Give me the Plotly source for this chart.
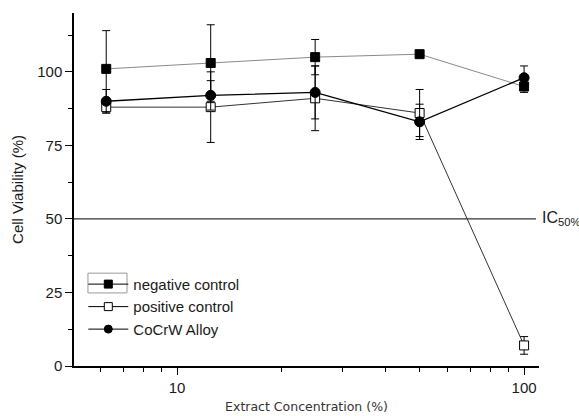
import plotly.graph_objects as go

conc = [6.25, 12.5, 25, 50, 100]
neg = [101, 103, 105, 106, 95]
neg_err = [13, 13, 6, 1, 2]
pos = [88, 88, 91, 86, 7]
pos_err = [2, 12, 11, 8, 3]
alloy = [90, 92, 93, 83, 98]
alloy_err = [4, 5, 9, 6, 4]

FONT = "Liberation Sans, Arial, sans-serif"
TXT = "#1a1a1a"

fig = go.Figure()

def add(name, y, err, color, symbol, size, lw, fill="black"):
    marker = dict(symbol=symbol, size=size, color=fill,
                  line=dict(color="black", width=1))
    fig.add_trace(go.Scatter(
        x=conc, y=y, name=name, mode="lines+markers", showlegend=False,
        line=dict(color=color, width=lw), marker=marker,
        error_y=dict(type="data", array=err, visible=True, color="black",
                     thickness=1, width=4),
    ))
    # legend entry without error bars
    fig.add_trace(go.Scatter(
        x=[None], y=[None], name=name, mode="lines+markers",
        line=dict(color="black", width=1),
        marker=dict(symbol=symbol, size=8, color=fill,
                    line=dict(color="black", width=1)),
    ))

add("negative control", neg, neg_err, "#8a8a8a", "square", 9, 1)
add("positive control", pos, pos_err, "#333333", "square", 9, 1, fill="white")
add("CoCrW Alloy", alloy, alloy_err, "black", "circle", 10, 1.3)

fig.add_shape(type="line", xref="paper", yref="y", x0=0, x1=0.9935, y0=50, y1=50,
              line=dict(color="#333333", width=1.2))
fig.add_annotation(xref="paper", yref="y", x=1.002, y=50, xanchor="left",
                   text="IC<sub>50%</sub>", showarrow=False,
                   font=dict(family=FONT, size=16, color=TXT))
# box around first legend symbol
fig.add_shape(type="rect", xref="paper", yref="paper",
              x0=0.030, x1=0.114, y0=0.207, y1=0.263,
              line=dict(color="#999999", width=1))

fig.update_layout(
    template="none",
    width=579, height=416,
    margin=dict(l=74, r=40, t=13, b=50),
    plot_bgcolor="white", paper_bgcolor="white",
    font=dict(family=FONT, size=14, color=TXT),
    showlegend=True,
    legend=dict(x=0.02, y=0.278, xanchor="left", yanchor="top",
                bgcolor="rgba(0,0,0,0)", font=dict(size=15, color=TXT),
                tracegroupgap=0, itemwidth=40),
)
fig.update_xaxes(
    type="log", range=[0.703, 2.043], automargin=False,
    tickvals=[10, 100], ticktext=["10", "100"],
    ticks="outside", ticklen=7, tickwidth=1.3, tickcolor="black",
    minor=dict(tickvals=[6, 7, 8, 9, 20, 30, 40, 50, 60, 70, 80, 90],
               ticks="outside", ticklen=4, tickwidth=1.3, tickcolor="black"),
    showline=True, linecolor="black", linewidth=1.5, showgrid=False, zeroline=False,
    tickfont=dict(size=15, color=TXT),
    title=dict(text="Extract Concentration (%)",
               font=dict(family="DejaVu Sans, Verdana, sans-serif", size=12.5, color="#333"),
               standoff=7),
)
fig.update_yaxes(
    range=[0, 120], automargin=False,
    tickvals=[0, 25, 50, 75, 100],
    ticks="outside", ticklen=7, tickwidth=1.3, tickcolor="black",
    minor=dict(tickvals=[12.5, 37.5, 62.5, 87.5, 112.5],
               ticks="outside", ticklen=4, tickwidth=1.3, tickcolor="black"),
    showline=True, linecolor="black", linewidth=1.5, showgrid=False, zeroline=False,
    tickfont=dict(size=15, color=TXT),
    title=dict(text="Cell Viability (%)", font=dict(size=15, color=TXT), standoff=10),
)

fig.write_html("out.html", config={"displayModeBar": False},
               post_script="document.body.style.margin='0';")
